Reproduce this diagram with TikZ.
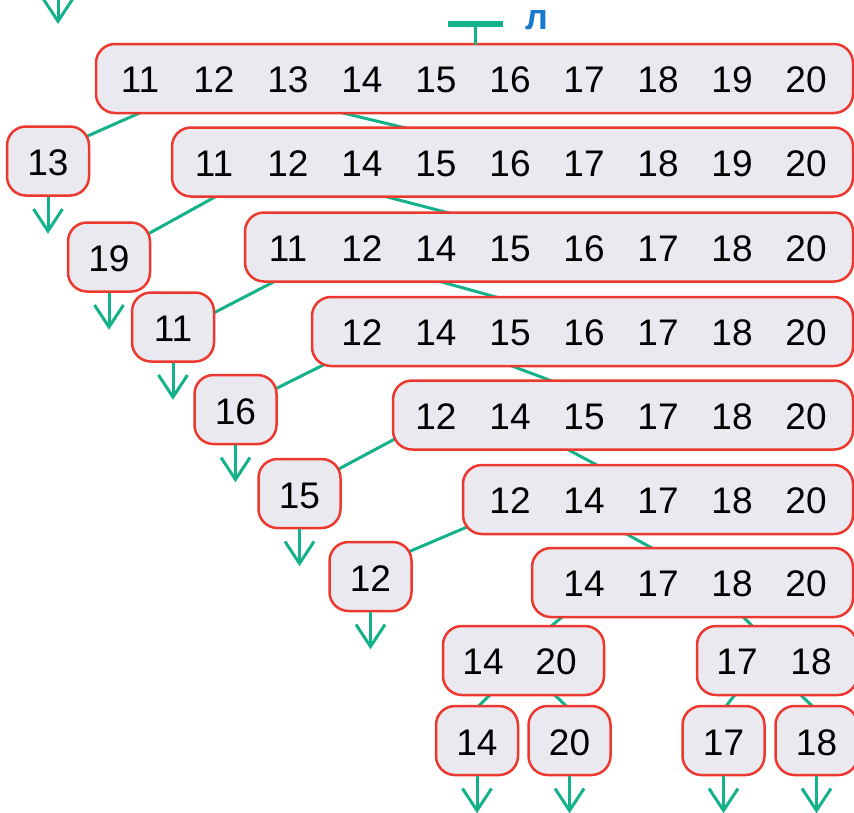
\documentclass[tikz,border=0pt]{standalone}
\usepackage{fontspec}
\setmainfont{Liberation Sans}
\usetikzlibrary{arrows.meta,backgrounds}
\definecolor{boxred}{RGB}{236,56,46}
\definecolor{boxfill}{RGB}{234,233,240}
\definecolor{linkgreen}{RGB}{20,178,138}
\definecolor{tagblue}{RGB}{25,122,205}
\newcommand{\dropstyle}{-{Straight Barb[length=22pt,width=29pt]}}

\begin{document}
\begin{tikzpicture}[
    x=1pt, y=-1pt,
    font=\fontsize{37}{44}\selectfont,
    rowbox/.style={draw=boxred, fill=boxfill, line width=2.5pt, rounded corners=19pt, minimum height=69pt, inner sep=0pt},
    leafbox/.style={rowbox, minimum width=82pt, text height=29.5pt, text depth=0pt},
    num/.style={inner sep=0pt, yshift=-1.5pt},
    link/.style={linkgreen, line width=3pt},
    drop/.style={\dropstyle, linkgreen, line width=3pt},
    tagmark/.style={linkgreen, line width=6pt}
]
  \def\pitch{74}
  \def\stub{37}
  \useasboundingbox (0,0) rectangle (854,812);
  \clip (0,0) rectangle (854,812);

  % partitions, right-aligned on a common column grid
  \foreach \r/\lft/\cy/\vals in {
      0/96/78.5/{11,12,13,14,15,16,17,18,19,20},
      1/172/162/{11,12,14,15,16,17,18,19,20},
      2/245/247/{11,12,14,15,16,17,18,20},
      3/312/331.5/{12,14,15,16,17,18,20},
      4/393/415/{12,14,15,17,18,20},
      5/463/499.5/{12,14,17,18,20},
      6/532/582.5/{14,17,18,20}} {
    \pgfmathsetmacro{\cx}{(\lft+853)/2}
    \pgfmathsetmacro{\boxw}{853-\lft}
    \node[rowbox, minimum width=\boxw pt] (r\r) at (\cx,\cy) {};
    \foreach \v [count=\k from 0] in \vals {
      \pgfmathsetmacro{\nx}{140+\pitch*(\r+\k)}
      \node[num] (r\r-\v) at (\nx,\cy) {\v};
    }
  }

  % last split into two pairs
  \node[rowbox, minimum width=161pt] (p1420) at (523.5,660.5) {};
  \node[num] (p1420-14) at (483,660.5) {14};
  \node[num] (p1420-20) at (556,660.5) {20};
  \node[rowbox, minimum width=160pt] (p1718) at (777,660.5) {};
  \node[num] (p1718-17) at (737,660.5) {17};
  \node[num] (p1718-18) at (811,660.5) {18};

  % single elements dropped out on the left
  \foreach \name/\v/\cx/\cy in {s13/13/48/161, s19/19/109/257, s11/11/173/327,
      s16/16/235.5/409.5, s15/15/299.5/493.5, s12/12/370.5/576.5,
      a14/14/477/740.5, a20/20/569.5/740.5, b17/17/723.5/740.5, b18/18/816.5/740.5} {
    \node[leafbox] (\name) at (\cx,\cy) {\v};
    \draw[drop] (\name.south) -- ([yshift=-\stub pt]\name.south);
  }

  % arrow coming in from above
  \coordinate (topin) at (58,-2);
  \coordinate (topout) at (58,24);
  \draw[drop] (topin) -- (topout);

  % tee marker and its label
  \coordinate (tee) at ([shift={(381,-19)}]r0.north west);
  \draw[linkgreen, line width=3pt] ([shift={(381,2)}]r0.north west) -- (tee);
  \draw[tagmark] ([xshift=-28pt]tee) -- ([xshift=27pt]tee);
  \node[font=\fontsize{36}{40}\selectfont\bfseries, text=tagblue, inner sep=0pt, anchor=base west] (tag) at ([shift={(50,6)}]tee) {л};

  \begin{scope}[on background layer]
    % left branches to the single elements
    \foreach \p/\px/\py/\c/\qx/\qy in {r0/51/-4/s13/-10/14, r1/50/-4/s19/-11/17,
        r2/36/-4/s11/-8/25, r3/22/-7/s16/-10/19, r4/11/-16/s15/-10/15, r5/14/-12/s12/-11/14} {
      \draw[link] ([shift={(\px,\py)}]\p.south west) -- ([shift={(\qx,\qy)}]\c.north east);
    }
    % right branches to the remaining parts
    \foreach \p/\px/\py/\c/\qx/\qy in {r0/241/-3/r1/240/3, r1/208/-3/r2/210/3,
        r2/190/-3/r3/195/4, r3/194/-4/r4/166/4, r4/169/-5/r5/142/5, r5/156/-6/r6/128/5,
        r6/37/-6/p1420/104/6, r6/208/-6/p1718/61/6,
        p1420/52/-5/a14/39/6, p1420/109/-5/a20/44/6,
        p1718/42/-5/b17/41/6, p1718/101/-5/b18/43/6} {
      \draw[link] ([shift={(\px,\py)}]\p.south west) -- ([shift={(\qx,\qy)}]\c.north west);
    }
  \end{scope}
\end{tikzpicture}
\end{document}
